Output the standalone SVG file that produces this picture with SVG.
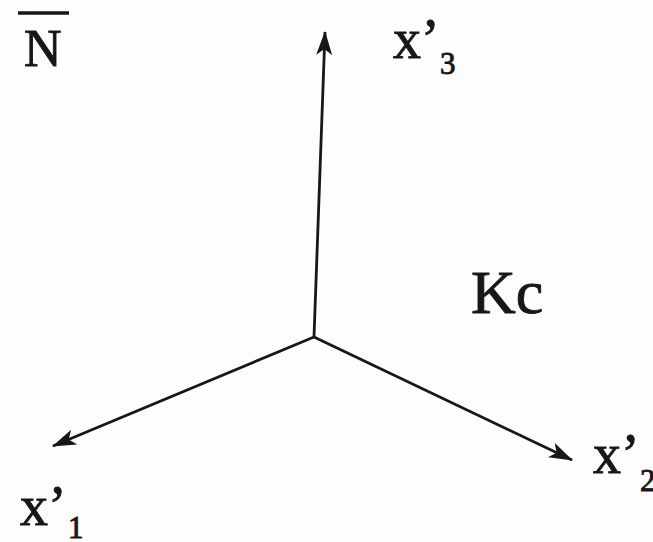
<svg xmlns="http://www.w3.org/2000/svg" width="653" height="542" viewBox="0 0 653 542">
<defs>
<style>
.t{font-family:"Liberation Serif","Times New Roman",serif;fill:#1a1618;stroke:#1a1618;stroke-width:0.9}
.ax{stroke:#1a1618;stroke-width:2.8;fill:none}
</style>
<marker id="ah" viewBox="0 0 24 16" refX="23" refY="8" markerWidth="24" markerHeight="16" markerUnits="userSpaceOnUse" orient="auto">
<path d="M0,0 L24,8 L0,16 L6,8 Z" fill="#1a1618"/>
</marker>
</defs>
<rect width="653" height="542" fill="#fdfdfd"/>
<g id="connectors">
<line class="ax" x1="314" y1="337" x2="325" y2="32" marker-end="url(#ah)"/>
<line class="ax" x1="314" y1="337" x2="53" y2="446" marker-end="url(#ah)"/>
<line class="ax" x1="314" y1="337" x2="572" y2="460" marker-end="url(#ah)"/>
</g>
<g id="nbar">
<line x1="18" y1="13" x2="69" y2="13" stroke="#1a1618" stroke-width="3.5"/>
<text class="t" x="24" y="66" font-size="52">N</text>
</g>
<g id="x3">
<text class="t" x="393" y="58" font-size="56">x’</text>
<text class="t" x="440" y="74" font-size="31">3</text>
</g>
<g id="kc">
<text class="t" x="471" y="313" font-size="62">Kc</text>
</g>
<g id="x1">
<text class="t" x="20" y="525" font-size="56">x’</text>
<text class="t" x="68" y="538" font-size="31">1</text>
</g>
<g id="x2">
<text class="t" x="593" y="473" font-size="56">x’</text>
<text class="t" x="640" y="491" font-size="31">2</text>
</g>
</svg>
